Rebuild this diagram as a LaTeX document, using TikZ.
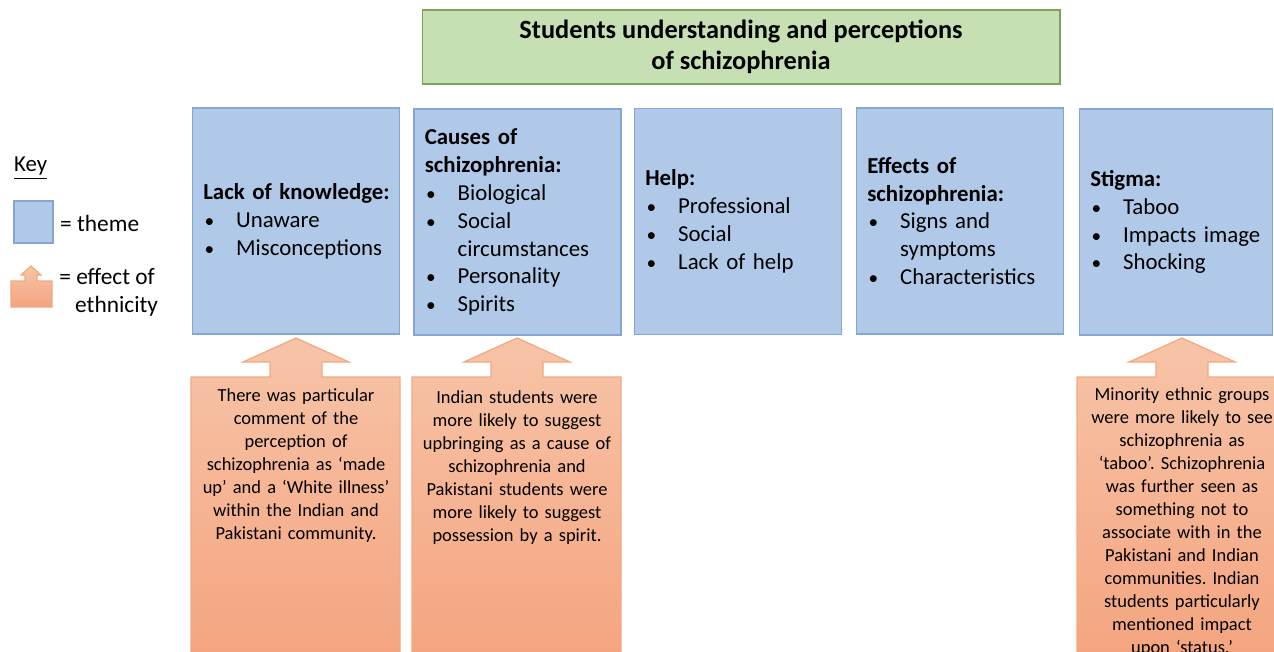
\documentclass[tikz,border=0pt]{standalone}
\usepackage{fontspec}
\setmainfont{Carlito}
\frenchspacing
\hyphenpenalty=10000
\hbadness=10000
\hfuzz=20pt
\definecolor{themefill}{HTML}{B1C9E8}
\definecolor{themeline}{HTML}{86A7D6}
\definecolor{titlefill}{HTML}{C6E0B4}
\definecolor{titleline}{HTML}{7BA35A}
\definecolor{ethtop}{HTML}{F7C4A8}
\definecolor{ethbot}{HTML}{F4A47F}
\definecolor{ethline}{HTML}{F2A880}
\newcommand{\itm}[1]{\hspace*{0.8pt}\makebox[17.9pt][l]{\fontsize{11}{11}\selectfont•}#1}
\newcommand{\itmc}[1]{\hspace*{18.7pt}#1}
\begin{document}
\begin{tikzpicture}[x=0.02cm,y=-0.02cm,
  theme/.style={draw=themeline,fill=themefill,line width=0.7pt,text width=105.5pt,
    inner xsep=6.2pt,minimum height=128.6pt,align=left,
    font=\fontsize{13}{15.9}\selectfont},
  effect/.style={text width=116pt,align=center,inner sep=0pt,anchor=north,
    font=\fontsize{10.5}{13.1}\selectfont}]
\useasboundingbox (0,0) rectangle (1274,652);
% title
\node[draw=titleline,fill=titlefill,line width=0.7pt,minimum width=363pt,
  minimum height=42.1pt,align=center,font=\fontsize{15}{17.6}\selectfont\bfseries]
  (title) at (741,47) {\raisebox{-1.1pt}{Students understanding and perceptions}\\
  \raisebox{-1.1pt}{of schizophrenia}};
% themes
\node[theme] (knowledge) at (296,221) {\mbox{\textbf{Lack of knowledge:}}\\
  \itm{Unaware}\\ \itm{Misconceptions}};
\node[theme] (causes) at (517.5,222) {\textbf{Causes of}\\ \textbf{schizophrenia:}\\
  \itm{Biological}\\ \itm{Social}\\ \itmc{circumstances}\\ \itm{Personality}\\ \itm{Spirits}};
\node[theme] (help) at (738,221.5) {\textbf{Help:}\\
  \itm{Professional}\\ \itm{Social}\\ \itm{Lack of help}};
\node[theme] (effects) at (960,221) {\textbf{Effects of}\\ \textbf{schizophrenia:}\\
  \itm{Signs and}\\ \itmc{symptoms}\\ \itm{Characteristics}};
\node[theme,text width=97.6pt] (stigma) at (1176,222) {\textbf{Stigma:}\\
  \itm{Taboo}\\ \itm{Impacts image}\\ \itm{Shocking}};
% effect of ethnicity
\foreach \c/\l/\r in {296/191/400, 517/412/621, 1182/1077/1276}
  \path[draw=ethline,line width=0.7pt,top color=ethtop,bottom color=ethbot]
    (\l,660) -- (\l,377) -- ({\c-26},377) -- ({\c-26},362) -- ({\c-53},362)
    -- (\c,338) -- ({\c+53},362) -- ({\c+26},362) -- ({\c+26},377)
    -- (\r,377) -- (\r,660) -- cycle;
\node[effect] (eff1) at (296,388) {There was particular\\ comment of the\\ perception of\\
  schizophrenia as ‘made\\ up’ and a ‘White illness’\\ within the Indian and\\ Pakistani community.};
\node[effect] (eff2) at (517,390) {Indian students were\\ more likely to suggest\\
  upbringing as a cause of\\ schizophrenia and\\ Pakistani students were\\
  more likely to suggest\\ possession by a spirit.};
\node[effect] (eff3) at (1182,387) {Minority ethnic groups\\ were more likely to see\\
  schizophrenia as\\ ‘taboo’. Schizophrenia\\ was further seen as\\ something not to\\
  associate with in the\\ Pakistani and Indian\\ communities. Indian\\
  students particularly\\ mentioned impact\\ upon ‘status.’};
% key
\node[anchor=west,font=\fontsize{13}{15.9}\selectfont] (key) at (8,168) {\underline{Key}};
\node[draw=themeline,fill=themefill,line width=0.7pt,minimum width=22.2pt,
  minimum height=23.9pt,inner sep=0pt] (keytheme) at (33.5,222) {};
\node[anchor=west,font=\fontsize{13.3}{15.9}\selectfont] (keythemetxt) at (54,223) {= theme};
\path[draw=ethline,line width=0.7pt,top color=ethtop,bottom color=ethbot]
  (11,307) -- (11,281) -- (25,281) -- (25,275) -- (21,275) -- (31,266) -- (41,275)
  -- (37,275) -- (37,281) -- (52,281) -- (52,307) -- cycle;
\node[anchor=north west,align=left,inner sep=0pt,font=\fontsize{13.3}{15.9}\selectfont]
  (keyeffecttxt) at (59,268) {= effect of\\ \hspace*{9pt}ethnicity};
\end{tikzpicture}
\end{document}
